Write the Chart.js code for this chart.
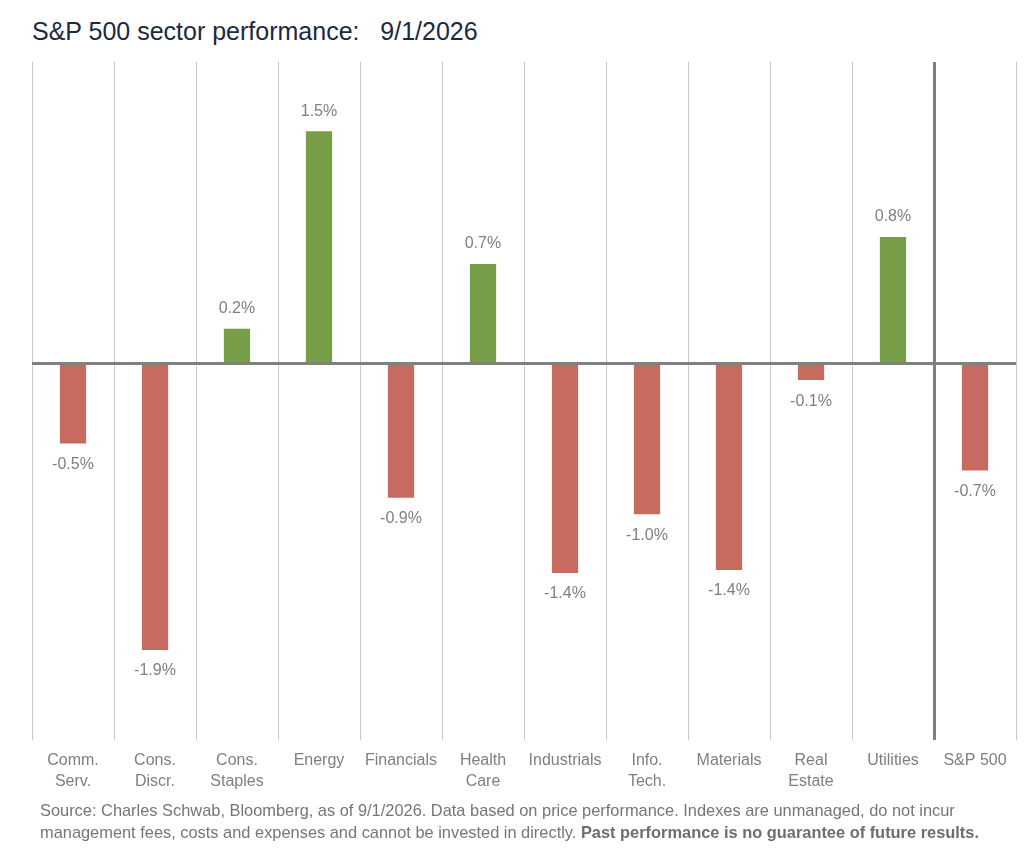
<!DOCTYPE html>
<html>
<head>
<meta charset="utf-8">
<script src="https://cdn.jsdelivr.net/npm/chart.js@4"></script>
<style>
    body { margin: 0; background: #fff; width: 1030px; height: 853px; position: relative; overflow: hidden; }
    .title { position: absolute; left: 32px; top: 17px; font: 25px "Liberation Sans", Arial, sans-serif; color: #1b2a3f; white-space: pre; }
    .chart-box { position: absolute; left: 0; top: 50px; width: 1030px; height: 752px; }
    .note { position: absolute; left: 40px; top: 799px; font: 16.4px "Liberation Sans", Arial, sans-serif; color: #767676; line-height: 22px; white-space: nowrap; }
    .note b { color: #6e6e6e; }
</style>
</head>
<body>
<div class="title">S&amp;P 500 sector performance:   9/1/2026</div>
<div class="chart-box"><canvas id="sectorChart"></canvas></div>
<div class="note">Source: Charles Schwab, Bloomberg, as of 9/1/2026. Data based on price performance. Indexes are unmanaged, do not incur<br>management fees, costs and expenses and cannot be invested in directly. <b>Past performance is no guarantee of future results.</b></div>
<script>
const sectors = [
    ['Comm.', 'Serv.'], ['Cons.', 'Discr.'], ['Cons.', 'Staples'], 'Energy', 'Financials',
    ['Health', 'Care'], 'Industrials', ['Info.', 'Tech.'], 'Materials', ['Real', 'Estate'],
    'Utilities', 'S&P 500'
];
const performance = [-0.53, -1.90, 0.23, 1.54, -0.89, 0.66, -1.39, -1.00, -1.37, -0.11, 0.84, -0.71];

const GREEN = '#789d47';
const RED = '#c76a60';
const GRAY = '#7f7f7f';

// value labels above / below each bar
const valueLabels = {
    id: 'valueLabels',
    afterDatasetsDraw(chart) {
        const ctx = chart.ctx;
        const meta = chart.getDatasetMeta(0);
        ctx.save();
        ctx.font = '16px "Liberation Sans", Arial, sans-serif';
        ctx.fillStyle = GRAY;
        ctx.textAlign = 'center';
        ctx.textBaseline = 'middle';
        meta.data.forEach((bar, i) => {
            const v = performance[i];
            const y = v >= 0 ? bar.y - 20 : bar.y + 21;
            ctx.fillText(v.toFixed(1) + '%', bar.x, y);
        });
        ctx.restore();
    }
};

new Chart(document.getElementById('sectorChart'), {
    type: 'bar',
    data: {
        labels: sectors,
        datasets: [{
            data: performance,
            backgroundColor: performance.map(v => v >= 0 ? GREEN : RED),
            barPercentage: 0.32,
            categoryPercentage: 1
        }]
    },
    options: {
        responsive: true,
        maintainAspectRatio: false,
        animation: false,
        layout: { padding: { left: 32, right: 14, top: 12, bottom: 0 } },
        plugins: { legend: { display: false }, tooltip: { enabled: false } },
        scales: {
            x: {
                grid: {
                    offset: true,
                    drawTicks: false,
                    color: ctx => ctx.index === 11 ? '#808080' : '#c8c8c8',
                    lineWidth: ctx => ctx.index === 11 ? 3 : 1
                },
                border: { display: false },
                ticks: {
                    color: GRAY,
                    padding: 10,
                    maxRotation: 0,
                    autoSkip: false,
                    font: { family: '"Liberation Sans", Arial, sans-serif', size: 16, lineHeight: 1.3 }
                }
            },
            y: {
                min: -2.5,
                max: 2,
                ticks: { display: false, stepSize: 0.5 },
                border: { display: false },
                grid: {
                    drawTicks: false,
                    color: ctx => ctx.tick && ctx.tick.value === 0 ? '#808080' : 'rgba(0,0,0,0)',
                    lineWidth: 3
                }
            }
        }
    },
    plugins: [valueLabels]
});
</script>
</body>
</html>
